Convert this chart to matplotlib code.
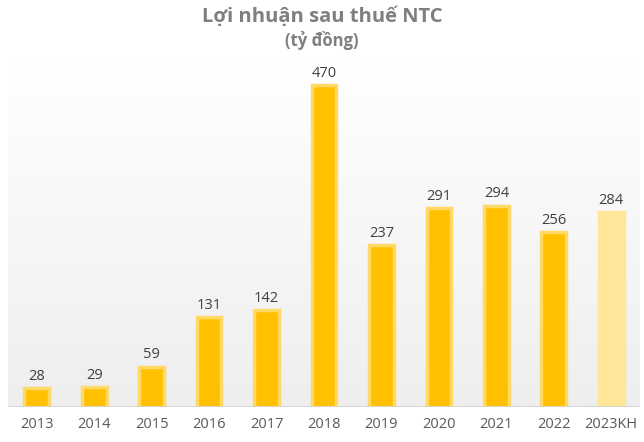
import matplotlib
matplotlib.use("Agg")
import matplotlib.pyplot as plt
import numpy as np
from matplotlib.colors import LinearSegmentedColormap

categories = ["2013", "2014", "2015", "2016", "2017", "2018", "2019", "2020", "2021", "2022", "2023KH"]
values = [28, 29, 59, 131, 142, 470, 237, 291, 294, 256, 284]

plt.rcParams['font.family'] = ['Open Sans', 'DejaVu Sans']

fig = plt.figure(figsize=(6.44, 4.42), dpi=100)
fig.patch.set_facecolor("white")
ax = fig.add_axes([8/644, 35/442, 632/644, 347/442])

ymax = 347 / (322 / 470)
ax.set_ylim(0, ymax)
ax.set_xlim(-0.5, len(categories) - 0.5)

# gradient background
cmap = LinearSegmentedColormap.from_list("bg", ["#EEEEEE", "#FFFFFF"])
grad = np.linspace(0, 1, 256).reshape(-1, 1)
ax.imshow(grad, extent=[-0.5, len(categories) - 0.5, 0, ymax], origin="lower",
          aspect="auto", cmap=cmap, zorder=0)

x = np.arange(len(categories))
face = ["#FFC000"] * (len(categories) - 1) + ["#FFE699"]
edge = ["#FFD966"] * (len(categories) - 1) + ["#FFE699"]
ax.bar(x, values, width=0.43, color=face, edgecolor=edge, linewidth=2.5, zorder=2)

for xi, v in zip(x, values):
    ax.text(xi, v + 6, str(v), ha="center", va="bottom", fontsize=10.5, color="#404040", zorder=3)

ax.axhline(0, color="#D0D0D0", linewidth=1.2, zorder=3)

ax.set_xticks(x)
ax.set_xticklabels(categories, fontsize=10.5, color="#595959")
ax.tick_params(axis="x", length=0, pad=7)
ax.set_yticks([])
for s in ax.spines.values():
    s.set_visible(False)

fig.text(0.5, 1 - 17/442, "Lợi nhuận sau thuế NTC", ha="center", va="center",
         fontsize=14.5, fontweight="bold", color="#7F7F7F")
fig.text(0.5, 1 - 41/442, "(tỷ đồng)", ha="center", va="center",
         fontsize=12, fontweight="bold", color="#7F7F7F")

fig.savefig("out.png", dpi=100)
